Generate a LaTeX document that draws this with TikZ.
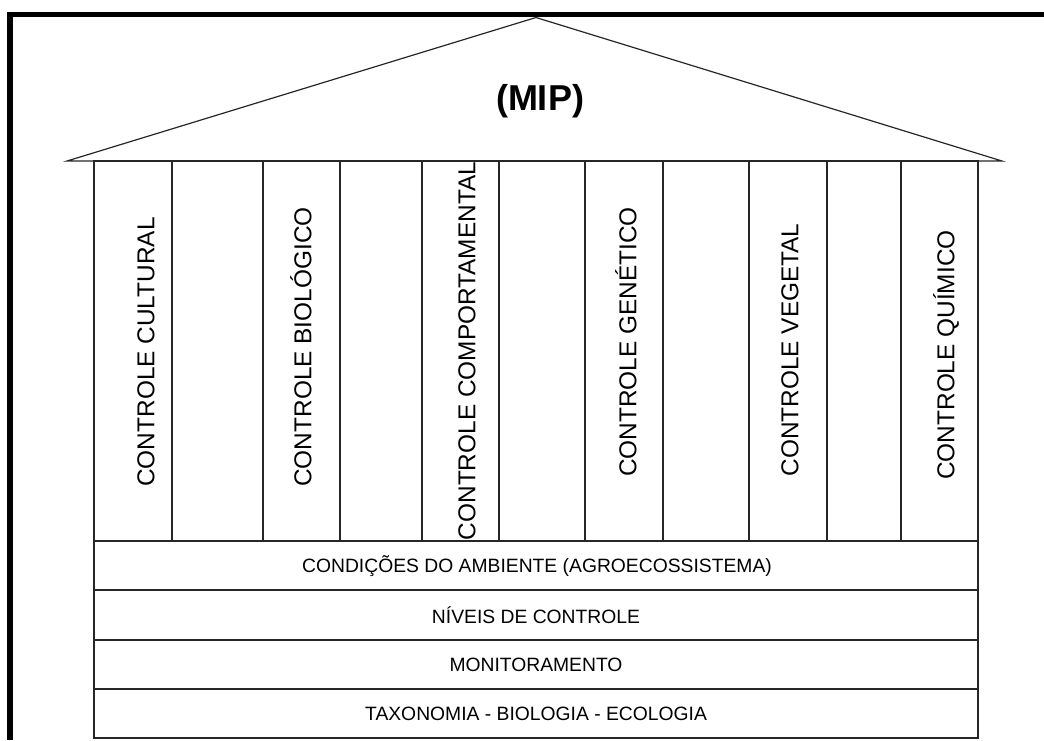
\documentclass[tikz,border=0pt]{standalone}
\usepackage{fontspec}
\setmainfont{Liberation Sans}
\begin{document}
\begin{tikzpicture}[x=1pt,y=-1pt,
  ln/.style={draw=black!85,line width=1.2pt},
  coltext/.style={rotate=90,font=\fontsize{24.4}{28}\selectfont,inner sep=0pt,anchor=center},
  rowtext/.style={font=\fontsize{19.3}{22}\selectfont,inner sep=0pt,anchor=center}]
\useasboundingbox (0,0) rectangle (1044,740);
% frame
\draw[line width=5.8pt,black] (10,740) -- (10,14.5) -- (1044,14.5);
% roof
\coordinate (rl) at (67,161);
\coordinate (ra) at (536,17.5);
\coordinate (rr) at (1002,161);
\draw[ln,line join=miter] (rl) -- (ra) -- (rr) -- cycle;
% column area
\draw[ln] (94,161) rectangle (978,541);
\foreach \x in {172,263,340,422,499,585,663,749,827,901}{
  \draw[ln] (\x,161) -- (\x,541);
}
% base rows
\draw[ln] (94,541) rectangle (978,738);
\foreach \y in {590,640,689}{
  \draw[ln] (94,\y) -- (978,\y);
}
% title
\node[font=\fontsize{36}{40}\selectfont\bfseries,inner sep=0pt] (mip) at (540,101) {(MIP)};
% column labels
\node[coltext] (c1) at (146,352) {CONTROLE CULTURAL};
\node[coltext] (c2) at (301,347) {CONTROLE BIOLÓGICO};
\node[coltext] (c3) at (467,351) {CONTROLE COMPORTAMENTAL};
\node[coltext] (c4) at (626,342) {CONTROLE GENÉTICO};
\node[coltext] (c5) at (790,350) {CONTROLE VEGETAL};
\node[coltext] (c6) at (946,355) {CONTROLE QUÍMICO};
% row labels
\node[rowtext] (r1) at (537,566) {CONDIÇÕES DO AMBIENTE (AGROECOSSISTEMA)};
\node[rowtext] (r2) at (536,615) {NÍVEIS DE CONTROLE};
\node[rowtext] (r3) at (536,665) {MONITORAMENTO};
\node[rowtext] (r4) at (536,714) {TAXONOMIA - BIOLOGIA - ECOLOGIA};
\end{tikzpicture}
\end{document}
